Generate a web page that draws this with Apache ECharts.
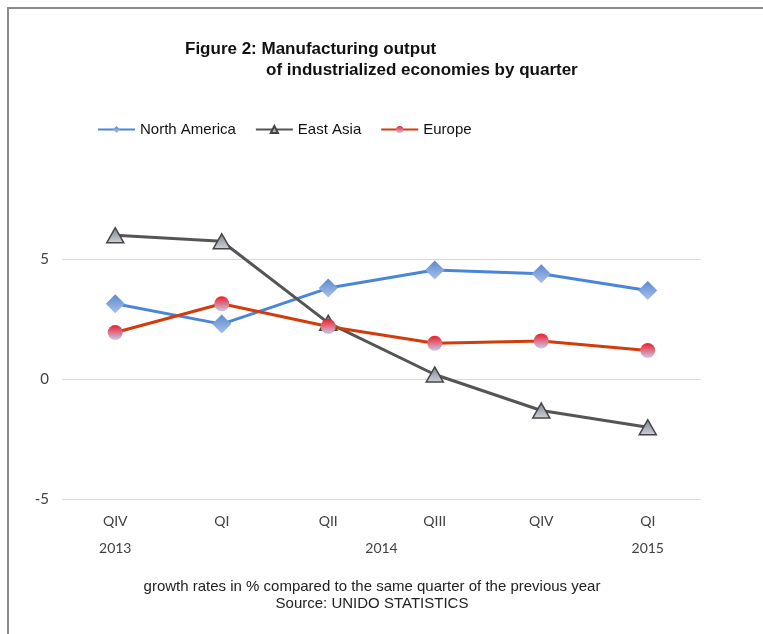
<!DOCTYPE html>
<html>
<head>
<meta charset="utf-8">
<script src="https://cdn.jsdelivr.net/npm/echarts@6/dist/echarts.min.js"></script>
<style>
  html, body { margin: 0; padding: 0; background: #fff; }
  #chart { width: 763px; height: 634px; }
</style>
</head>
<body>
<div id="chart"></div>
<script>
const quarters = ["QIV", "QI", "QII", "QIII", "QIV", "QI"];
const years = ["2013", "2014", "2015"];
// first and last quarter index covered by each year label
const yearSpans = [[0, 0], [1, 4], [5, 5]];

const northAmerica = [3.15, 2.3, 3.8, 4.55, 4.4, 3.7];
const eastAsia = [6.0, 5.75, 2.35, 0.2, -1.3, -2.0];
const europe = [1.95, 3.15, 2.2, 1.5, 1.6, 1.2];

const chart = echarts.init(document.getElementById("chart"));

const grad = (a, b) =>
  new echarts.graphic.LinearGradient(0, 0, 0, 1, [
    { offset: 0, color: a },
    { offset: 1, color: b },
  ]);

const narrow = 'Lato, "Liberation Sans Narrow", sans-serif';
const arial = '"Liberation Sans", Arial, sans-serif';

const option = {
  backgroundColor: "#fff",
  animation: false,
  title: [
    {
      text: "Figure 2: Manufacturing output",
      left: 180,
      top: 36,
      textStyle: { fontFamily: arial, fontSize: 17, fontWeight: "bold", color: "#111" },
    },
    {
      text: "of industrialized economies by quarter",
      left: 261,
      top: 57,
      textStyle: { fontFamily: arial, fontSize: 17, fontWeight: "bold", color: "#111" },
    },
  ],
  legend: {
    left: 92,
    top: 117,
    itemWidth: 37,
    itemHeight: 9,
    itemGap: 19,
    textStyle: { fontFamily: arial, fontSize: 15, color: "#111" },
    data: ["North America", "East Asia", "Europe"],
  },
  grid: { left: 62, right: 62, top: 139.3, height: 360 },
  xAxis: {
    type: "category",
    data: quarters,
    boundaryGap: true,
    axisLine: { show: false },
    axisTick: { show: false },
    axisLabel: { fontFamily: narrow, fontSize: 14, color: "#404040", margin: 15 },
  },
  yAxis: {
    type: "value",
    min: -5,
    max: 10,
    interval: 5,
    axisLine: { show: false },
    axisTick: { show: false },
    axisLabel: {
      fontFamily: narrow,
      fontSize: 15,
      color: "#404040",
      margin: 13,
      showMaxLabel: false,
    },
    splitLine: { showMaxLine: false, lineStyle: { color: "#d9d9d9", width: 1 } },
  },
  series: [
    {
      name: "North America",
      type: "line",
      data: northAmerica,
      symbol: "diamond",
      symbolSize: [19, 19],
      lineStyle: { color: "#4a86d8", width: 3 },
      itemStyle: { color: grad("#5b8ad0", "#a9c1e8") },
      emphasis: { disabled: true },
    },
    {
      name: "East Asia",
      type: "line",
      data: eastAsia,
      symbol: "triangle",
      symbolSize: [17, 15],
      lineStyle: { color: "#555555", width: 3 },
      itemStyle: { color: grad("#7c828e", "#cfd3dc"), borderColor: "#454545", borderWidth: 1.5 },
      emphasis: { disabled: true },
    },
    {
      name: "Europe",
      type: "line",
      data: europe,
      symbol: "circle",
      symbolSize: 15,
      lineStyle: { color: "#d23c0a", width: 3 },
      itemStyle: { color: grad("#ee1d27", "#c9c9e9") },
      emphasis: { disabled: true },
    },
  ],
};

chart.setOption(option);

// year labels under the quarter labels, centred on the quarters they span
const yearTexts = years.map((y, i) => {
  const a = chart.convertToPixel({ xAxisIndex: 0 }, yearSpans[i][0]);
  const b = chart.convertToPixel({ xAxisIndex: 0 }, yearSpans[i][1]);
  return {
    type: "text",
    x: (a + b) / 2,
    y: 548,
    style: {
      text: y,
      fontFamily: narrow,
      fontSize: 14,
      fill: "#404040",
      align: "center",
      verticalAlign: "middle",
    },
  };
});

chart.setOption({
  graphic: [
    ...yearTexts,
    {
      type: "text",
      x: 372,
      y: 587,
      style: {
        text: "growth rates in % compared to the same quarter of the previous year",
        fontFamily: arial,
        fontSize: 15,
        fill: "#222",
        align: "center",
        verticalAlign: "middle",
      },
    },
    {
      type: "text",
      x: 372,
      y: 604,
      style: {
        text: "Source: UNIDO STATISTICS",
        fontFamily: arial,
        fontSize: 15,
        fill: "#222",
        align: "center",
        verticalAlign: "middle",
      },
    },
    {
      type: "polyline",
      shape: { points: [[8, 634], [8, 8], [763, 8]] },
      style: { stroke: "#8c8c8c", lineWidth: 2, fill: null },
    },
  ],
});
</script>
</body>
</html>
